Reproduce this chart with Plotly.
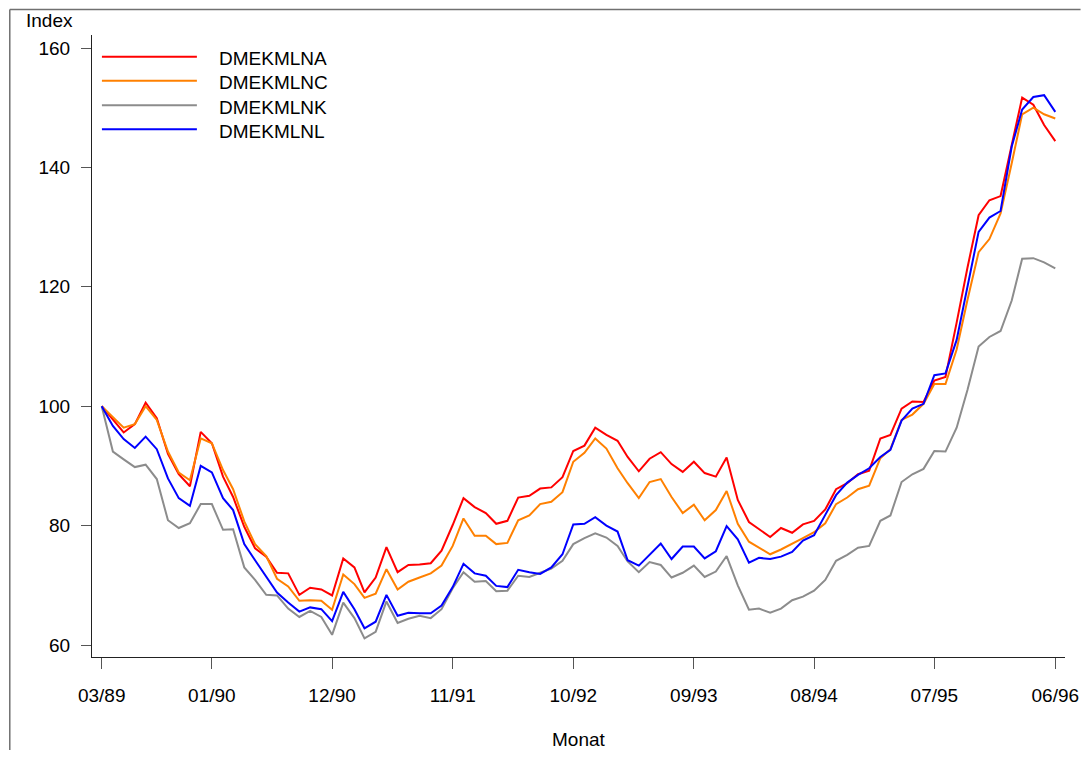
import pandas as pd
import plotly.graph_objects as go

# ---------------- data ----------------
months = pd.date_range("1989-03-01", periods=88, freq="MS")

dmekmlna = [100.0, 97.8, 95.6, 97.0, 100.6, 98.0, 92.0, 88.6, 86.6, 95.7,
            93.8, 88.2, 84.8, 79.8, 76.2, 74.8, 72.1, 72.0, 68.4, 69.6,
            69.3, 68.3, 74.5, 73.0, 68.8, 71.3, 76.4, 72.2, 73.4, 73.5,
            73.7, 75.8, 80.1, 84.6, 83.1, 82.1, 80.3, 80.8, 84.7, 85.0,
            86.2, 86.4, 88.1, 92.5, 93.4, 96.4, 95.2, 94.2, 91.5, 89.1,
            91.2, 92.3, 90.3, 89.0, 90.7, 88.8, 88.2, 91.4, 84.3, 80.6,
            79.4, 78.1, 79.6, 78.8, 80.2, 80.8, 82.7, 86.1, 87.1, 88.6,
            89.2, 94.6, 95.2, 99.6, 100.8, 100.7, 104.3, 104.9, 114.0, 123.2,
            132.0, 134.5, 135.2, 143.8, 151.7, 150.5, 147.1, 144.4]

dmekmlnc = [100.0, 98.2, 96.4, 97.0, 100.0, 97.7, 92.4, 88.9, 87.6, 94.6,
            93.8, 89.3, 86.1, 80.7, 76.9, 74.9, 71.1, 69.8, 67.4, 67.5,
            67.4, 65.9, 71.8, 70.2, 67.9, 68.6, 72.7, 69.3, 70.6, 71.3,
            72.0, 73.3, 76.6, 81.2, 78.3, 78.3, 76.9, 77.1, 80.9, 81.7,
            83.6, 84.0, 85.6, 90.7, 92.2, 94.6, 92.9, 89.6, 87.1, 84.6,
            87.3, 87.8, 84.8, 82.1, 83.5, 80.9, 82.6, 85.8, 80.3, 77.3,
            76.3, 75.2, 76.0, 76.9, 77.9, 78.9, 80.4, 83.6, 84.7, 86.1,
            86.7, 91.3, 92.8, 97.7, 98.6, 100.4, 103.7, 103.7, 109.5, 117.8,
            125.8, 128.0, 132.3, 140.7, 148.9, 150.0, 148.9, 148.2]

dmekmlnk = [100.0, 92.4, 91.1, 89.8, 90.2, 87.8, 80.9, 79.6, 80.4, 83.6,
            83.6, 79.3, 79.4, 73.0, 70.9, 68.4, 68.3, 66.1, 64.7, 65.7,
            64.7, 61.7, 67.1, 64.5, 61.1, 62.2, 67.3, 63.7, 64.4, 64.9,
            64.5, 66.0, 69.5, 72.2, 70.6, 70.7, 69.0, 69.1, 71.6, 71.4,
            72.1, 72.8, 74.1, 76.9, 77.9, 78.7, 78.0, 76.6, 74.0, 72.2,
            73.9, 73.4, 71.3, 72.1, 73.3, 71.4, 72.3, 74.9, 70.0, 65.9,
            66.1, 65.4, 66.1, 67.5, 68.1, 69.1, 70.9, 74.1, 75.1, 76.3,
            76.6, 80.8, 81.7, 87.3, 88.6, 89.5, 92.5, 92.4, 96.4, 102.7,
            110.0, 111.6, 112.6, 117.7, 124.7, 124.8, 124.1, 123.1]

dmekmlnl = [100.0, 96.7, 94.5, 93.0, 94.9, 92.8, 87.9, 84.6, 83.3, 90.0,
            88.9, 84.6, 82.6, 76.9, 74.2, 71.4, 68.8, 67.1, 65.6, 66.3,
            66.0, 64.0, 68.9, 66.0, 62.8, 63.9, 68.4, 64.9, 65.4, 65.3,
            65.3, 66.6, 69.7, 73.6, 72.0, 71.6, 69.9, 69.7, 72.6, 72.2,
            71.9, 73.0, 75.2, 80.2, 80.3, 81.4, 80.0, 79.0, 74.2, 73.3,
            75.2, 77.0, 74.4, 76.5, 76.5, 74.5, 75.7, 79.9, 77.7, 73.8,
            74.6, 74.4, 74.8, 75.6, 77.5, 78.4, 81.8, 85.1, 87.2, 88.5,
            89.6, 91.5, 92.7, 97.6, 99.6, 100.4, 105.2, 105.5, 111.1, 120.0,
            129.2, 131.6, 132.7, 143.5, 149.7, 151.8, 152.1, 149.3]

series_names = ["DMEKMLNA", "DMEKMLNC", "DMEKMLNK", "DMEKMLNL"]
series_values = [dmekmlna, dmekmlnc, dmekmlnk, dmekmlnl]
series_colors = ["#FF0000", "#FF8000", "#8C8C8C", "#0000FF"]

tick_dates = ["1989-03-01", "1990-01-01", "1990-12-01", "1991-11-01", "1992-10-01",
              "1993-09-01", "1994-08-01", "1995-07-01", "1996-06-01"]
tick_labels = ["03/89", "01/90", "12/90", "11/91", "10/92",
               "09/93", "08/94", "07/95", "06/96"]
y_ticks = [60, 80, 100, 120, 140, 160]

# ---------------- figure ----------------
FONT = "Liberation Sans, Arial, Helvetica, sans-serif"
FS = 19

fig = go.Figure()
for name, vals, col in zip(series_names, series_values, series_colors):
    fig.add_trace(go.Scatter(x=months, y=vals, mode="lines", name=name,
                             line=dict(color=col, width=2), showlegend=False))

# custom legend (long line samples like the reference)
leg_y = [0.9651, 0.9265, 0.8870, 0.8484]
for name, col, yy in zip(series_names, series_colors, leg_y):
    fig.add_shape(type="line", xref="paper", yref="paper",
                  x0=0.0102, x1=0.1078, y0=yy, y1=yy,
                  line=dict(color=col, width=2))
    fig.add_annotation(xref="paper", yref="paper", x=0.1282, y=yy - 0.003,
                       text=name, showarrow=False, xanchor="left", yanchor="middle",
                       font=dict(family=FONT, size=FS, color="black"))

# outer frame: top and left edges, kept inside the figure
frame_style = dict(color="#707070", width=1.5)
fig.add_shape(type="line", xref="paper", yref="paper",
              x0=-0.0845, x1=1.0160, y0=1.0410, y1=1.0410, line=frame_style)
fig.add_shape(type="line", xref="paper", yref="paper",
              x0=-0.0845, x1=-0.0845, y0=-0.1495, y1=1.0410, line=frame_style)

fig.add_annotation(xref="paper", yref="paper", x=-0.0432, y=1.0241,
                   text="Index", showarrow=False, xanchor="center", yanchor="middle",
                   font=dict(family=FONT, size=FS, color="black"))
fig.add_annotation(xref="paper", yref="paper", x=0.5, y=-0.1334,
                   text="Monat", showarrow=False, xanchor="center", yanchor="middle",
                   font=dict(family=FONT, size=FS, color="black"))

fig.update_layout(
    width=1083, height=742,
    margin=dict(l=84, r=16, t=27, b=93, pad=0),
    paper_bgcolor="white", plot_bgcolor="white",
    font=dict(family=FONT, size=FS, color="black"),
)
fig.update_xaxes(
    type="date", range=["1989-02-02", "1996-06-28"],
    tickvals=tick_dates, ticktext=tick_labels,
    showgrid=False, zeroline=False,
    showline=True, linecolor="#222222", linewidth=1,
    ticks="outside", ticklen=11, tickcolor="#555555", tickwidth=1,
    ticklabelstandoff=10,
)
fig.update_yaxes(
    range=[57.99, 162.18], tickvals=y_ticks,
    showgrid=False, zeroline=False,
    showline=True, linecolor="#222222", linewidth=1,
    ticks="outside", ticklen=10, tickcolor="#555555", tickwidth=1,
    ticklabelstandoff=7,
)

fig.write_html("out.html")
